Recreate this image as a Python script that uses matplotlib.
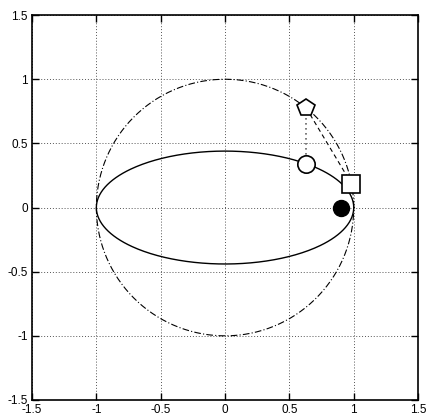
import matplotlib
matplotlib.use('Agg')
import matplotlib.pyplot as plt
import numpy as np

plt.rcParams['font.family'] = ['Liberation Sans', 'DejaVu Sans']

# orbit: semi-major axis a, semi-minor axis b
a = 1.0
b = 0.44
focus_x = [0.898]
focus_y = [0.0]

# points on the auxiliary circle and ellipse
circ_pt_x = [0.63]
circ_pt_y = [0.777]
ell_pt_x = [0.63]
ell_pt_y = [0.342]
sq_x = [0.982]
sq_y = [0.187]

ticks = [-1.5, -1, -0.5, 0, 0.5, 1, 1.5]
tick_labels = ['-1.5', '-1', '-0.5', '0', '0.5', '1', '1.5']

fig = plt.figure(figsize=(4.28, 4.17), dpi=100)
ax = fig.add_axes([0.0748, 0.0408, 0.902, 0.923])

t = np.linspace(0, 2 * np.pi, 400)
ax.plot(a * np.cos(t), a * np.sin(t), color='black', lw=0.8,
        linestyle=(0, (6, 2, 1, 2)), zorder=2)
ax.plot(a * np.cos(t), b * np.sin(t), color='black', lw=1.0, zorder=2)

# construction lines
ax.plot([circ_pt_x[0], ell_pt_x[0]], [circ_pt_y[0], ell_pt_y[0]],
        color='#666666', lw=1.2, linestyle=(0, (1, 2)), zorder=2)
ax.plot([circ_pt_x[0], sq_x[0]], [circ_pt_y[0], sq_y[0]],
        color='black', lw=0.8, linestyle=(0, (4, 3)), zorder=2)

ax.plot(circ_pt_x, circ_pt_y, marker='p', ms=13, mfc='white', mec='black',
        mew=1.2, ls='none', zorder=4)
ax.plot(ell_pt_x, ell_pt_y, marker='o', ms=12.5, mfc='white', mec='black',
        mew=1.2, ls='none', zorder=4)
ax.plot(sq_x, sq_y, marker='s', ms=12.5, mfc='white', mec='black',
        mew=1.2, ls='none', zorder=4)
ax.plot(focus_x, focus_y, marker='o', ms=11.5, mfc='black', mec='black',
        ls='none', zorder=4)

ax.set_xlim(-1.5, 1.5)
ax.set_ylim(-1.5, 1.5)
ax.set_xticks(ticks)
ax.set_xticklabels(tick_labels)
ax.set_yticks(ticks)
ax.set_yticklabels(tick_labels)
ax.tick_params(direction='in', length=5, width=1, labelsize=8.5,
               top=True, right=True, pad=3)
ax.grid(True, color='#555555', linestyle=(0, (1, 2)), lw=0.7)
for s in ax.spines.values():
    s.set_linewidth(1.2)

fig.savefig('out.png', dpi=100)
